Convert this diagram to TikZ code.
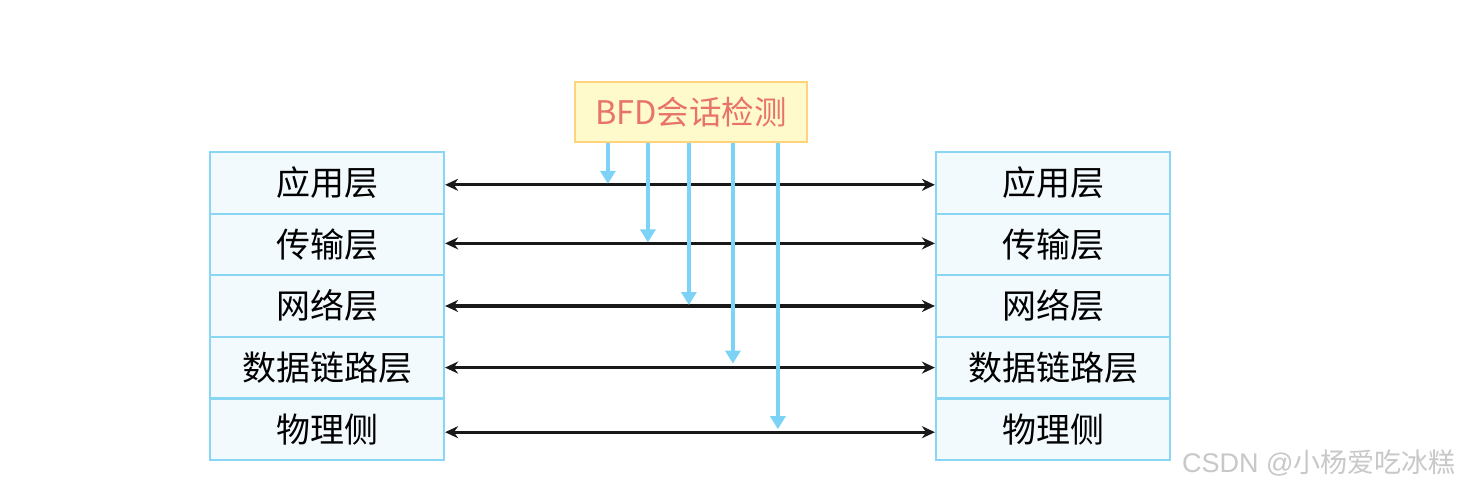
\documentclass[tikz,border=0pt]{standalone}
\usepackage{fontspec}
\setmainfont{Noto Sans CJK SC}
\newfontfamily\wmlatin{Liberation Sans}
\usetikzlibrary{arrows.meta,calc}
\definecolor{boxfill}{HTML}{F3FAFD}
\definecolor{boxline}{HTML}{88D6F4}
\definecolor{bfdfill}{HTML}{FFFACB}
\definecolor{bfdline}{HTML}{FFD27C}
\definecolor{bfdtext}{HTML}{E8736B}
\definecolor{bluearr}{HTML}{7DD3F5}
\definecolor{wm}{HTML}{C8C8C8}
\begin{document}
\begin{tikzpicture}[x=1pt,y=-1pt,
  layer/.style={draw=boxline,fill=boxfill,line width=2.2pt,minimum width=234pt,minimum height=61.6pt,inner sep=0pt,font=\fontsize{34}{38}\selectfont},
  bfdbox/.style={draw=bfdline,fill=bfdfill,line width=2.2pt,minimum width=232pt,minimum height=60pt,inner sep=0pt,text=bfdtext,font=\fontsize{32.5}{36}\selectfont},
  link/.style={line width=3.4pt,black!90,{Stealth[length=13pt,width=12pt]}-{Stealth[length=13pt,width=12pt]}},
  probe/.style={line width=3.2pt,bluearr,-{Triangle[length=13pt,width=15pt]}}
]
\useasboundingbox (0,0) rectangle (1463,489);
\path[fill=white] (0,0) rectangle (1463,489);
\foreach \i/\t in {1/应用层,2/传输层,3/网络层,4/数据链路层,5/物理侧}{
  \node[layer] (L\i) at (327,{152+61.6*(\i-0.5)}) {\t};
  \node[layer] (R\i) at (1053,{152+61.6*(\i-0.5)}) {\t};
}
\node[bfdbox] (bfd) at (691,112) {BFD会话检测};
\foreach \i/\dy in {1/-2,2/1,3/0,4/0,5/-3}{
  \draw[link] ([yshift=\dy pt]L\i.east) -- ([yshift=\dy pt]R\i.west);
}
\foreach \i/\dx/\dy in {1/34/-1,2/74/2,3/115/1,4/159/4,5/204/0}{
  \draw[probe] ([xshift=\dx pt]bfd.south west) -- ([xshift=\dx pt,yshift=\dy pt]bfd.south west |- L\i.east);
}
\node[text=wm,font=\fontsize{27}{30}\selectfont,anchor=east] (wmk) at (1459,463) {{\wmlatin CSDN @}小杨爱吃冰糕};
\end{tikzpicture}
\end{document}
